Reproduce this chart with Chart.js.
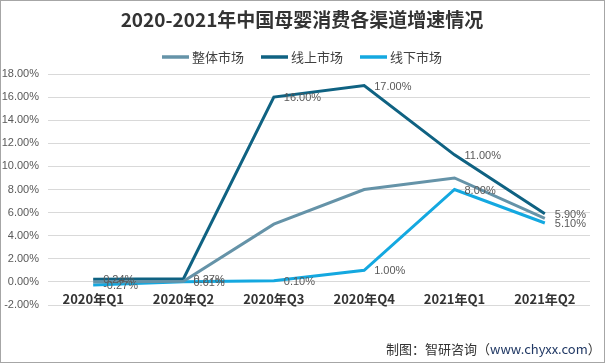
<!DOCTYPE html>
<html>
<head>
<meta charset="utf-8">
<script src="https://cdn.jsdelivr.net/npm/chart.js@4/dist/chart.umd.min.js"></script>
<style>
  html, body { margin: 0; padding: 0; background: #fff; }
  #wrap { position: relative; width: 603px; height: 361px; border: 1px solid #a6a6a6; }
  #source {
    position: absolute; left: 385px; top: 338px;
    font: 13px 'Noto Sans CJK SC', sans-serif; color: #333; white-space: nowrap;
  }
  #source span { color: #203864; }
</style>
</head>
<body>
<div id="wrap">
  <canvas id="chart" width="603" height="361"></canvas>
  <div id="source">制图：智研咨询（<span>www.chyxx.com</span>）</div>
</div>
<script>
// categories and series
const categories = ['2020年Q1', '2020年Q2', '2020年Q3', '2020年Q4', '2021年Q1', '2021年Q2'];
const seriesNames = ['整体市场', '线上市场', '线下市场'];
const overall = [0.0, 0.05, 5.0, 8.0, 9.0, 5.5];
const online = [0.24, 0.27, 16.0, 17.0, 11.0, 5.9];
const offline = [-0.27, 0.01, 0.10, 1.00, 8.0, 5.1];
const yTicks = [-2, 0, 2, 4, 6, 8, 10, 12, 14, 16, 18];

const colors = ['#6593a8', '#0f6282', '#14a8e0'];
const titleText = '2020-2021年中国母婴消费各渠道增速情况';

// titulo, leyenda, etiquetas de datos y del eje x
const decorPlugin = {
    id: 'decor',
    afterDraw(chart) {
        const ctx = chart.ctx;
        const xs = chart.scales.x;
        const ys = chart.scales.y;
        ctx.save();

        // title
        ctx.fillStyle = '#333333';
        ctx.font = "bold 19px 'Noto Sans CJK SC', sans-serif";
        ctx.textAlign = 'center';
        ctx.textBaseline = 'middle';
        ctx.fillText(titleText, 301, 19);

        // legend
        ctx.font = "13px 'Noto Sans CJK SC', sans-serif";
        const lineW = 27, gap = 3, itemGap = 17;
        let widths = seriesNames.map(n => lineW + gap + ctx.measureText(n).width);
        let total = widths.reduce((a, b) => a + b, 0) + itemGap * (widths.length - 1);
        let x = 301 - total / 2;
        const ly = 56;
        seriesNames.forEach((n, i) => {
            ctx.strokeStyle = colors[i];
            ctx.lineWidth = 3.5;
            ctx.beginPath();
            ctx.moveTo(x, ly);
            ctx.lineTo(x + lineW, ly);
            ctx.stroke();
            ctx.fillStyle = '#404040';
            ctx.textAlign = 'left';
            ctx.fillText(n, x + lineW + gap, ly);
            x += widths[i] + itemGap;
        });

        // category labels at zero line
        ctx.font = "bold 13px 'Noto Sans CJK SC', sans-serif";
        ctx.fillStyle = '#333333';
        ctx.textAlign = 'center';
        const zy = ys.getPixelForValue(0);
        categories.forEach((c, i) => {
            ctx.fillText(c, xs.getPixelForValue(i), zy + 17);
        });

        // data labels for online / offline
        ctx.font = "11px 'Liberation Sans', Arial, sans-serif";
        ctx.fillStyle = '#595959';
        ctx.textAlign = 'left';
        [1, 2].forEach(di => {
            const meta = chart.getDatasetMeta(di);
            meta.data.forEach((pt, i) => {
                const v = chart.data.datasets[di].data[i];
                ctx.fillText(v.toFixed(2) + '%', pt.x + 10, pt.y + 1);
            });
        });
        ctx.restore();
    }
};

const ctx = document.getElementById('chart').getContext('2d');
const chart = new Chart(ctx, {
    type: 'line',
    data: {
        labels: categories,
        datasets: [overall, online, offline].map((d, i) => ({
            label: seriesNames[i],
            data: d,
            borderColor: colors[i],
            backgroundColor: colors[i],
            borderWidth: 3,
            pointRadius: 0,
            tension: 0,
            fill: false
        }))
    },
    options: {
        responsive: false,
        animation: false,
        layout: { padding: { left: 0, right: 14, top: 73, bottom: 57 } },
        plugins: {
            legend: { display: false },
            title: { display: false },
            tooltip: { enabled: false }
        },
        scales: {
            x: {
                offset: true,
                afterFit(scale) { scale.height = 0; },
                grid: { display: false },
                border: { display: false },
                ticks: { display: false }
            },
            y: {
                min: -2,
                max: 18,
                afterFit(scale) { scale.width = 47; },
                afterBuildTicks(scale) { scale.ticks = yTicks.map(v => ({ value: v })); },
                grid: { color: '#d9d9d9', lineWidth: 1, drawTicks: false },
                border: { display: false },
                ticks: {
                    padding: 9,
                    color: '#595959',
                    font: { family: "'Liberation Sans', Arial, sans-serif", size: 11 },
                    callback: v => v.toFixed(2) + '%'
                }
            }
        }
    },
    plugins: [decorPlugin]
});
</script>
</body>
</html>
